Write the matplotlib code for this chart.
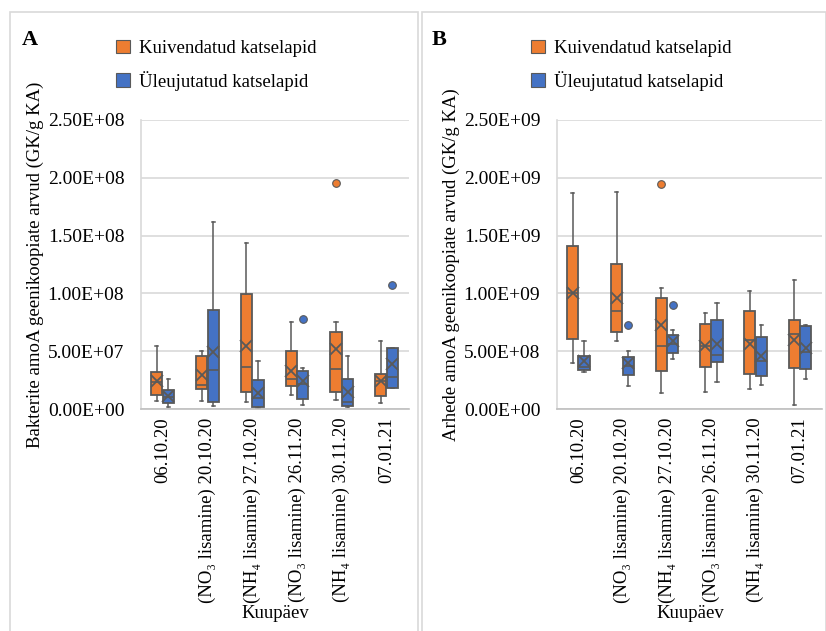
import numpy as np
import matplotlib
matplotlib.use("Agg")
import matplotlib.pyplot as plt
from matplotlib.patches import Rectangle, Patch
from matplotlib.ticker import FuncFormatter

plt.rcParams['font.family'] = ['Liberation Serif', 'DejaVu Serif']

dates = ["06.10.20", "(NO₃ lisamine) 20.10.20", "(NH₄ lisamine) 27.10.20",
         "(NO₃ lisamine) 26.11.20", "(NH₄ lisamine) 30.11.20", "07.01.21"]
series = ["Kuivendatud katselapid", "Üleujutatud katselapid"]

# A: bakterite amoA (x 1e7)
bac_dry_lo = [0.66, 0.66, 0.60, 1.18, 0.75, 0.52]
bac_dry_q1 = [1.18, 1.71, 1.47, 1.97, 1.47, 1.10]
bac_dry_med = [2.3, 2.1, 3.67, 2.63, 3.44, 2.46]
bac_dry_q3 = [3.18, 4.62, 9.94, 5.06, 6.68, 3.03]
bac_dry_hi = [5.49, 5.0, 14.4, 7.54, 7.54, 5.87]
bac_dry_mean = [2.4, 2.98, 5.46, 3.32, 5.2, 2.46]
bac_dry_out = [[], [], [], [], [19.57], []]

bac_wet_lo = [0.17, 0.23, 0.09, 0.38, 0.14, 1.85]
bac_wet_q1 = [0.49, 0.58, 0.14, 0.87, 0.29, 1.85]
bac_wet_med = [1.0, 3.35, 0.95, 2.2, 0.6, 2.77]
bac_wet_q3 = [1.68, 8.53, 2.54, 3.32, 2.63, 5.26]
bac_wet_hi = [2.63, 16.2, 4.13, 3.55, 4.62, 5.26]
bac_wet_mean = [1.1, 4.94, 1.39, 2.4, 1.45, 3.93]
bac_wet_out = [[], [], [], [7.8], [], [10.75]]

# B: arhede amoA (x 1e8)
arc_dry_lo = [4.02, 5.87, 1.36, 1.47, 1.76, 0.38]
arc_dry_q1 = [6.04, 6.68, 3.32, 3.64, 3.03, 3.55]
arc_dry_med = [10.06, 8.44, 5.49, 5.43, 6.0, 6.5]
arc_dry_q3 = [14.1, 12.57, 9.57, 7.37, 8.44, 7.72]
arc_dry_hi = [18.7, 18.8, 10.43, 8.27, 10.17, 11.2]
arc_dry_mean = [10.06, 9.62, 7.25, 5.43, 5.64, 6.0]
arc_dry_out = [[], [], [19.45], [], [], []]

arc_wet_lo = [3.24, 1.99, 4.36, 2.34, 2.05, 2.6]
arc_wet_q1 = [3.38, 2.95, 4.88, 4.08, 2.83, 3.47]
arc_wet_med = [3.67, 3.7, 5.58, 4.71, 4.13, 4.94]
arc_wet_q3 = [4.62, 4.54, 6.39, 7.72, 6.27, 7.17]
arc_wet_hi = [5.87, 5.0, 6.85, 9.19, 7.28, 7.23]
arc_wet_mean = [4.13, 3.99, 5.87, 5.58, 4.57, 5.29]
arc_wet_out = [[], [7.25], [8.99], [], [], []]

ORANGE = "#ED7D31"
BLUE = "#4472C4"
EDGE = "#595959"
GRID = "#D9D9D9"
FS = 13.5


def make_stats(lo, q1, med, q3, hi, mean, out, scale):
    return [dict(whislo=lo[i] * scale, q1=q1[i] * scale, med=med[i] * scale,
                 q3=q3[i] * scale, whishi=hi[i] * scale, mean=mean[i] * scale,
                 fliers=[v * scale for v in out[i]])
            for i in range(len(lo))]


def draw_boxes(ax, stats, offset, color):
    pos = np.arange(len(stats)) + offset
    ax.bxp(stats, positions=pos, widths=0.25, patch_artist=True, showmeans=True,
           capwidths=0.07,
           boxprops=dict(facecolor=color, edgecolor=EDGE, linewidth=1.3),
           medianprops=dict(color=EDGE, linewidth=1.2),
           whiskerprops=dict(color=EDGE, linewidth=1.1),
           capprops=dict(color=EDGE, linewidth=1.1),
           meanprops=dict(marker="x", markeredgecolor=EDGE, markersize=8,
                          markeredgewidth=1.3),
           flierprops=dict(marker="o", markerfacecolor=color, markeredgecolor=EDGE,
                           markersize=5.5, markeredgewidth=0.8))


def style_axes(ax, top, ylabel):
    ax.set_xlim(-0.48, 5.5)
    ax.set_ylim(0, top)
    ax.set_yticks(np.linspace(0, top, 6))
    ax.yaxis.set_major_formatter(FuncFormatter(lambda v, p: f"{v:.2E}"))
    ax.set_xticks(range(len(dates)))
    ax.set_xticklabels(dates, rotation=90)
    ax.tick_params(axis="y", length=0, labelsize=14, pad=12)
    ax.tick_params(axis="x", length=0, labelsize=13.5, pad=6)
    ax.grid(axis="y", color=GRID, linewidth=1.2)
    ax.set_axisbelow(True)
    for s in ["top", "right"]:
        ax.spines[s].set_visible(False)
    ax.spines["left"].set_color(GRID)
    ax.spines["left"].set_linewidth(1.2)
    ax.spines["bottom"].set_color("#BFBFBF")
    ax.spines["bottom"].set_linewidth(1.2)
    ax.set_ylabel(ylabel, fontsize=FS, labelpad=3)


fig = plt.figure(figsize=(8.26, 6.31), dpi=100)
W, H = 826, 631

axA = fig.add_axes([141 / W, 1 - 409 / H, 268 / W, 289 / H])
axB = fig.add_axes([557 / W, 1 - 409 / H, 265 / W, 289 / H])

draw_boxes(axA, make_stats(bac_dry_lo, bac_dry_q1, bac_dry_med, bac_dry_q3,
                           bac_dry_hi, bac_dry_mean, bac_dry_out, 1e7), -0.13, ORANGE)
draw_boxes(axA, make_stats(bac_wet_lo, bac_wet_q1, bac_wet_med, bac_wet_q3,
                           bac_wet_hi, bac_wet_mean, bac_wet_out, 1e7), 0.13, BLUE)
draw_boxes(axB, make_stats(arc_dry_lo, arc_dry_q1, arc_dry_med, arc_dry_q3,
                           arc_dry_hi, arc_dry_mean, arc_dry_out, 1e8), -0.13, ORANGE)
draw_boxes(axB, make_stats(arc_wet_lo, arc_wet_q1, arc_wet_med, arc_wet_q3,
                           arc_wet_hi, arc_wet_mean, arc_wet_out, 1e8), 0.13, BLUE)

style_axes(axA, 2.5e8, "Bakterite amoA geenikoopiate arvud (GK/g KA)")
style_axes(axB, 2.5e9, "Arhede amoA geenikoopiate arvud (GK/g KA)")

# panel frames, letters, legends, x titles
for x0, x1, letter, lx, legx, cx in [(10, 418, "A", 22, 108, 275),
                                     (422, 826, "B", 432, 523, 690)]:
    fig.patches.append(Rectangle((x0 / W, -0.01), (x1 - x0) / W, 1 - 12 / H + 0.01,
                                 transform=fig.transFigure, fill=False,
                                 edgecolor=GRID, linewidth=1.2))
    fig.text(lx / W, 1 - 40 / H, letter, fontsize=16, fontweight="bold", va="center")
    fig.text(cx / W, 1 - 614 / H, "Kuupäev", fontsize=FS, ha="center", va="center")
    handles = [Patch(facecolor=ORANGE, edgecolor=EDGE, linewidth=0.8),
               Patch(facecolor=BLUE, edgecolor=EDGE, linewidth=0.8)]
    fig.legend(handles, series, loc="upper left", bbox_to_anchor=(legx / W, 1 - 32 / H),
               frameon=False, fontsize=FS, handlelength=0.75, handleheight=0.75,
               handletextpad=0.5, labelspacing=0.75, borderaxespad=0)

fig.savefig("out.png", dpi=100)
